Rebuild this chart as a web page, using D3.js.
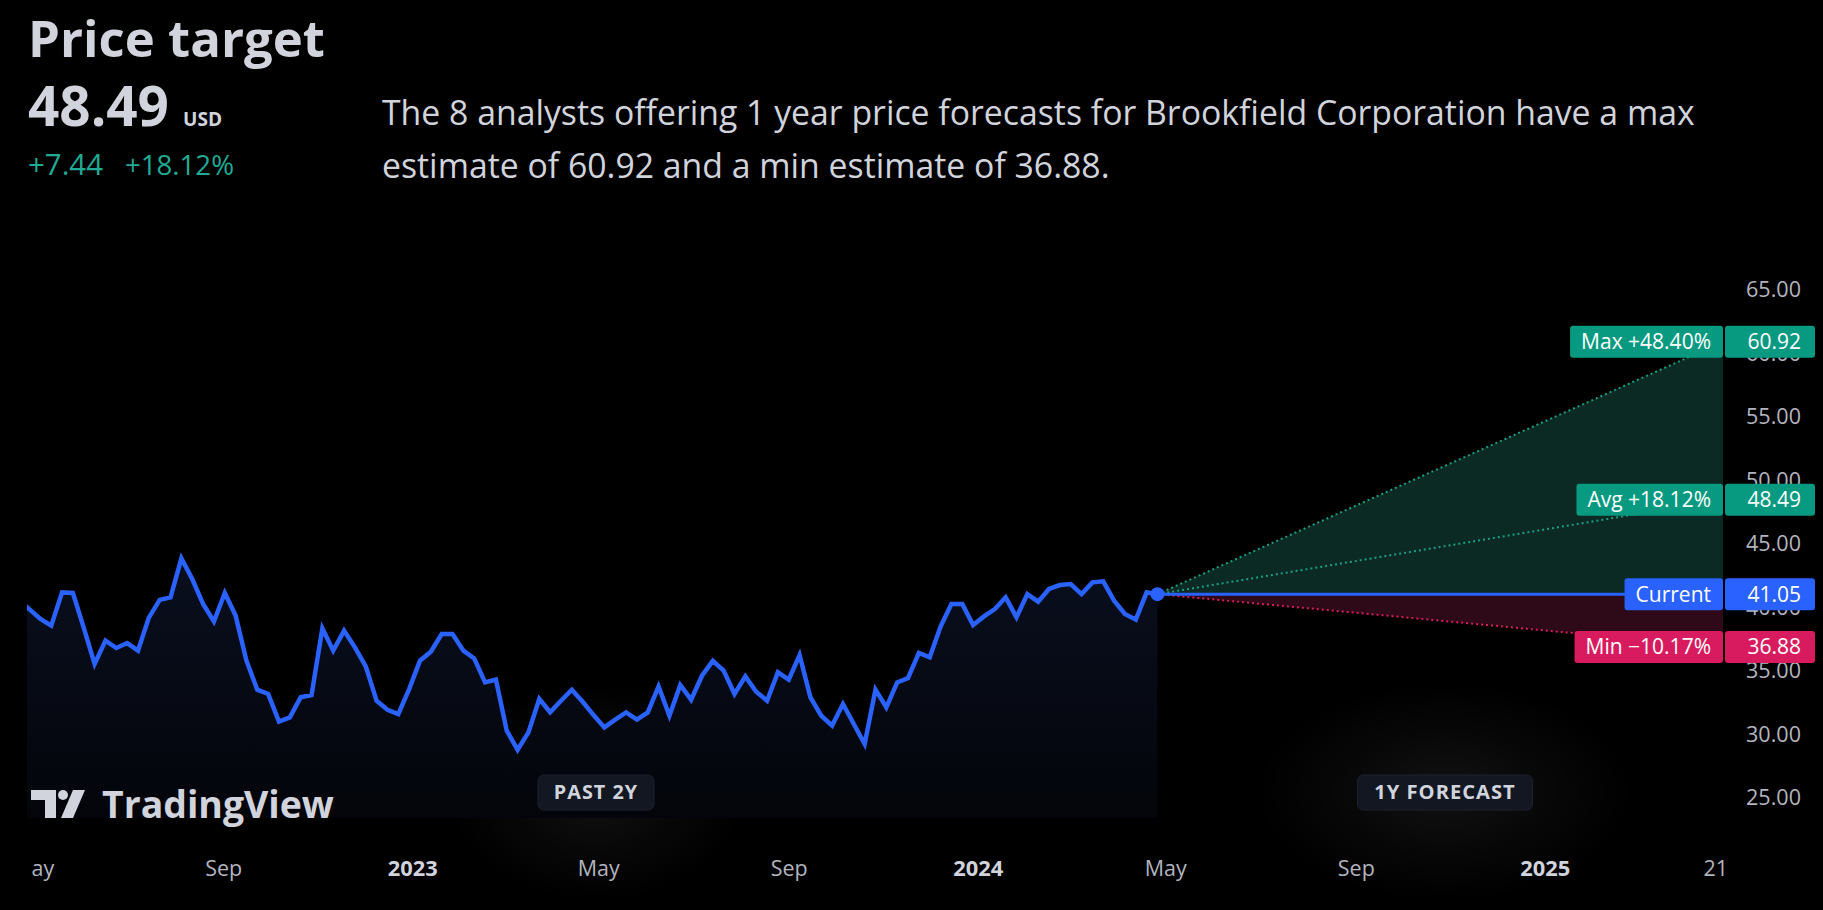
<!DOCTYPE html>
<html>
<head>
<meta charset="utf-8">
<script src="https://cdnjs.cloudflare.com/ajax/libs/d3/7.8.5/d3.min.js"></script>
<style>
  html, body { margin: 0; background: #000; }
  svg { display: block; font-family: 'Open Sans', 'Noto Sans', sans-serif; }
</style>
</head>
<body>
<svg id="chart" width="1823" height="910"></svg>
<script>
// weekly closes, oldest first, last one is the current price
const prices = [40.6, 39.85, 39.1, 38.57, 41.19, 41.14, 38.4, 35.55, 37.39, 36.81, 37.2, 36.6, 39.2, 40.6, 40.8,
  43.87, 42.24, 40.28, 38.9, 41.14, 39.36, 35.81, 33.53, 33.19, 31.01, 31.35, 32.93, 33.11, 38.36, 36.6, 38.18,
  36.86, 35.37, 32.66, 31.95, 31.61, 33.58, 35.81, 36.52, 37.91, 37.91, 36.6, 35.99, 34.1, 34.32, 30.3, 28.8,
  30.17, 32.8, 31.75, 32.66, 33.53, 32.58, 31.53, 30.56, 31.17, 31.74, 31.17, 31.74, 33.79, 31.48, 33.9, 32.74,
  34.63, 35.8, 35.03, 33.19, 34.58, 33.37, 32.66, 34.9, 34.32, 36.26, 32.93, 31.48, 30.7, 32.4, 30.83, 29.25,
  33.53, 32.14, 34.1, 34.45, 36.42, 36.08, 38.5, 40.28, 40.28, 38.62, 39.3, 39.88, 40.8, 39.23, 41.06, 40.46,
  41.46, 41.77, 41.85, 41.06, 41.98, 42.06, 40.54, 39.49, 39.04, 41.19, 41.05]
const lastDate = new Date(2024, 3, 26)
const forecastEnd = new Date(2025, 3, 26)

const targetNames = ['Max', 'Avg', 'Current', 'Min']
const targetPcts = ['+48.40%', '+18.12%', '', '\u221210.17%']
const targetValues = [60.92, 48.49, 41.05, 36.88]
const targetColors = ['#089981', '#089981', '#2962ff', '#d81b5e']

const yTicks = [25, 30, 35, 40, 45, 50, 55, 60, 65]
const xTicks = [new Date(2022, 4, 1), new Date(2022, 8, 1), new Date(2023, 0, 1), new Date(2023, 4, 1),
  new Date(2023, 8, 1), new Date(2024, 0, 1), new Date(2024, 4, 1), new Date(2024, 8, 1),
  new Date(2025, 0, 1), new Date(2025, 3, 21)]
const xTickLabels = ['May', 'Sep', '2023', 'May', 'Sep', '2024', 'May', 'Sep', '2025', '21']

const svg = d3.select('#chart')
const plotLeft = 27
const plotRight = 1723
const plotBottom = 818

// scale a text's font-size so that it spans the given width
function fit (sel, w) {
  const s = +sel.attr('font-size')
  sel.attr('font-size', s * w / sel.node().getComputedTextLength())
  return +sel.attr('font-size')
}

const x = d3.scaleTime()
  .domain([new Date(2022, 3, 28), forecastEnd])
  .range([28, plotRight])
const y = d3.scaleLinear()
  .domain([25, 65])
  .range([798, 290])

const data = prices.map((p, i) => ({ date: d3.timeWeek.offset(lastDate, i - (prices.length - 1)), value: p }))
const current = data[data.length - 1]

const defs = svg.append('defs')
defs.append('clipPath').attr('id', 'plotclip')
  .append('rect').attr('x', plotLeft).attr('y', 0).attr('width', plotRight - plotLeft).attr('height', 910)
defs.append('clipPath').attr('id', 'axisclip')
  .append('rect').attr('x', 31).attr('y', -100).attr('width', 1800).attr('height', 200)

const areaGrad = defs.append('linearGradient').attr('id', 'areagrad')
  .attr('x1', 0).attr('y1', 0).attr('x2', 0).attr('y2', 1)
areaGrad.append('stop').attr('offset', 0).attr('stop-color', '#0a0f1f')
areaGrad.append('stop').attr('offset', 1).attr('stop-color', '#03050a')

const glow = defs.append('radialGradient').attr('id', 'glow')
glow.append('stop').attr('offset', 0).attr('stop-color', '#ffffff').attr('stop-opacity', 0.07)
glow.append('stop').attr('offset', 0.6).attr('stop-color', '#ffffff').attr('stop-opacity', 0.025)
glow.append('stop').attr('offset', 1).attr('stop-color', '#ffffff').attr('stop-opacity', 0)

// header
fit(svg.append('text').attr('x', 28).attr('y', 57)
  .attr('fill', '#d1d4dc').attr('font-size', 50).attr('font-weight', 700)
  .text('Price target'), 297)
fit(svg.append('text').attr('x', 28).attr('y', 126)
  .attr('fill', '#d1d4dc').attr('font-size', 50).attr('font-weight', 700)
  .text('48.49'), 141)
fit(svg.append('text').attr('x', 183).attr('y', 126)
  .attr('fill', '#d1d4dc').attr('font-size', 17).attr('font-weight', 700)
  .text('USD'), 39)
fit(svg.append('text').attr('x', 28).attr('y', 175)
  .attr('fill', '#22ab94').attr('font-size', 24)
  .text('+7.44'), 75)
fit(svg.append('text').attr('x', 125).attr('y', 175)
  .attr('fill', '#22ab94').attr('font-size', 24)
  .text('+18.12%'), 109)

const desc = ['The 8 analysts offering 1 year price forecasts for Brookfield Corporation have a max',
  'estimate of 60.92 and a min estimate of 36.88.']
const descText = svg.append('g').selectAll('text').data(desc).join('text')
  .attr('x', 382).attr('y', (d, i) => 125 + i * 53)
  .attr('fill', '#d1d4dc').attr('font-size', 31)
  .text(d => d)
const descSize = fit(descText.filter((d, i) => i === 0), 1313)
descText.attr('font-size', descSize)

// glows behind badges
svg.append('ellipse').attr('cx', 596).attr('cy', 792).attr('rx', 150).attr('ry', 110).attr('fill', 'url(#glow)')
svg.append('ellipse').attr('cx', 1445).attr('cy', 792).attr('rx', 190).attr('ry', 110).attr('fill', 'url(#glow)')

// past area + line
const plot = svg.append('g').attr('clip-path', 'url(#plotclip)')
plot.append('path').datum(data)
  .attr('fill', 'url(#areagrad)')
  .attr('d', d3.area().x(d => x(d.date)).y0(plotBottom).y1(d => y(d.value)))

// forecast fans
const xc = x(current.date)
const yc = y(current.value)
const xe = x(forecastEnd)
plot.append('path')
  .attr('fill', '#0b2a24')
  .attr('d', d3.line()([[xc, yc], [xe, y(targetValues[0])], [xe, yc]]))
plot.append('path')
  .attr('fill', '#2e0a18')
  .attr('d', d3.line()([[xc, yc], [xe, yc], [xe, y(targetValues[3])]]))

const dotted = [[targetValues[0], '#1a9e84'], [targetValues[1], '#1a9e84'], [targetValues[3], '#d81b5e']]
plot.selectAll('.fan').data(dotted).join('line')
  .attr('class', 'fan')
  .attr('x1', xc).attr('y1', yc)
  .attr('x2', xe).attr('y2', d => y(d[0]))
  .attr('stroke', d => d[1]).attr('stroke-width', 2)
  .attr('stroke-dasharray', '2 3')

plot.append('line')
  .attr('x1', xc).attr('y1', yc).attr('x2', xe).attr('y2', yc)
  .attr('stroke', '#2962ff').attr('stroke-width', 3)

plot.append('path').datum(data)
  .attr('fill', 'none')
  .attr('stroke', '#2962ff').attr('stroke-width', 4.5)
  .attr('stroke-linejoin', 'miter')
  .attr('d', d3.line().x(d => x(d.date)).y(d => y(d.value)))

svg.append('circle').attr('cx', xc).attr('cy', yc).attr('r', 7).attr('fill', '#2962ff')

// y axis
const yAxis = svg.append('g')
  .attr('transform', 'translate(1801,0)')
  .call(d3.axisRight(y).tickValues(yTicks).tickFormat(d3.format('.2f')).tickSize(0).tickPadding(0))
yAxis.select('.domain').remove()
const yText = yAxis.selectAll('text')
  .attr('text-anchor', 'end').attr('x', 0)
  .attr('fill', '#b2b5be').attr('font-size', 19).attr('font-family', 'Open Sans, sans-serif')
yText.attr('font-size', fit(d3.select(yText.nodes()[0]), 55))

// x axis
const xAxis = svg.append('g')
  .attr('transform', 'translate(0,868)')
  .attr('clip-path', 'url(#axisclip)')
  .call(d3.axisBottom(x).tickValues(xTicks).tickFormat((d, i) => xTickLabels[i]).tickSize(0).tickPadding(0))
xAxis.select('.domain').remove()
const isYear = (d, i) => /^\d{4}$/.test(xTickLabels[i])
const xText = xAxis.selectAll('text')
  .attr('dy', '0.35em')
  .attr('font-size', 19).attr('font-family', 'Open Sans, sans-serif')
  .attr('fill', (d, i) => isYear(d, i) ? '#d1d4dc' : '#b2b5be')
  .attr('font-weight', (d, i) => isYear(d, i) ? 700 : 400)
const monthSize = fit(d3.select(xText.nodes()[1]), 37)
const yearSize = fit(d3.select(xText.nodes()[2]), 50)
xText.attr('font-size', (d, i) => isYear(d, i) ? yearSize : monthSize)

// target labels
const labels = svg.append('g').selectAll('g').data(targetValues).join('g')
  .attr('transform', d => `translate(0,${y(d)})`)
let labelSize = 20
labels.each(function (v, i) {
  const g = d3.select(this)
  const left = g.append('rect').attr('fill', targetColors[i]).attr('rx', 3)
  const t = g.append('text')
    .attr('x', 1711).attr('dy', '0.35em').attr('text-anchor', 'end')
    .attr('fill', '#ffffff').attr('font-size', labelSize)
    .text(targetNames[i] + (targetPcts[i] ? ' ' + targetPcts[i] : ''))
  if (i === 0) labelSize = fit(t, 130)
  const w = t.node().getComputedTextLength()
  left.attr('x', 1711 - w - 11).attr('y', -16).attr('width', xe - (1711 - w - 11)).attr('height', 32)
  g.append('rect').attr('fill', targetColors[i]).attr('rx', 3)
    .attr('x', xe + 2).attr('y', -16).attr('width', 90).attr('height', 32)
  g.append('text')
    .attr('x', 1801).attr('dy', '0.35em').attr('text-anchor', 'end')
    .attr('fill', '#ffffff').attr('font-size', labelSize)
    .text(d3.format('.2f')(v))
})

// badges
const badges = [['PAST 2Y', 596, 116, 85], ['1Y FORECAST', 1445, 175, 143]]
badges.forEach(([label, cx, w, tw]) => {
  svg.append('rect').attr('x', cx - w / 2).attr('y', 775).attr('width', w).attr('height', 35)
    .attr('rx', 6).attr('fill', '#131722').attr('stroke', '#1e2230').attr('stroke-width', 1)
  fit(svg.append('text').attr('x', cx).attr('y', 792).attr('dy', '0.35em').attr('text-anchor', 'middle')
    .attr('fill', '#d1d4dc').attr('font-size', 18).attr('font-weight', 700).attr('letter-spacing', 1)
    .text(label), tw)
})

// TradingView logo
const logo = svg.append('g').attr('fill', '#d1d4dc')
logo.append('path').attr('d', 'M31,790 H56 V818 H45 V800 H31 Z')
logo.append('circle').attr('cx', 63).attr('cy', 795).attr('r', 5)
logo.append('path').attr('d', 'M73,790 H85 L73,818 H61 Z')
fit(logo.append('text').attr('x', 102).attr('y', 818)
  .attr('font-size', 38).attr('font-weight', 700)
  .text('TradingView'), 232)
</script>
</body>
</html>
